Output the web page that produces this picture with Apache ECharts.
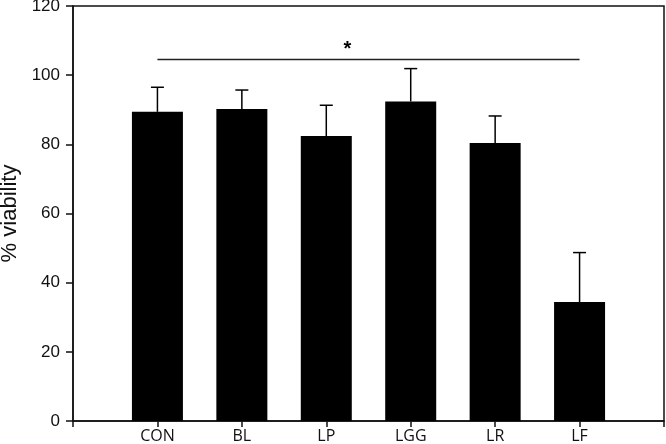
<!DOCTYPE html>
<html>
<head>
<meta charset="utf-8">
<script src="https://cdn.jsdelivr.net/npm/echarts@6/dist/echarts.min.js"></script>
<style>html,body{margin:0;padding:0;background:#fff}#c{width:666px;height:444px}</style>
</head>
<body>
<div id="c"></div>
<script>
var categories = ['CON', 'BL', 'LP', 'LGG', 'LR', 'LF'];
var values = [89.4, 90.2, 82.4, 92.4, 80.4, 34.4];
var errors = [7.1, 5.5, 8.9, 9.5, 7.8, 14.3];
var yTicks = [0, 20, 40, 60, 80, 100, 120];
var sigFrom = 1, sigTo = 6, sigLevel = 104.5;
var sigMark = '*';
var sigMarkPos = [3.25, 107.5];

var chart = echarts.init(document.getElementById('c'), null, {renderer: 'canvas'});
var barData = values.map(function (v, i) { return [i + 1, v]; });
var errData = values.map(function (v, i) { return [i + 1, v, v + errors[i]]; });

chart.setOption({
  animation: false,
  backgroundColor: '#fff',
  grid: {left: 73, right: 2, top: 6, bottom: 23, containLabel: false, outerBoundsMode: 'none',
    show: true, borderColor: '#111', borderWidth: 1.5, backgroundColor: 'transparent'},
  xAxis: {
    type: 'value', min: 0, max: categories.length + 1, interval: 1,
    splitLine: {show: false},
    axisLine: {show: true, onZero: false, lineStyle: {color: '#111', width: 1.5}},
    axisTick: {show: true, length: 6, lineStyle: {color: '#111', width: 1.5}},
    axisLabel: {
      margin: 7, color: '#111', fontSize: 16, fontFamily: 'Open Sans',
      showMinLabel: true, showMaxLabel: true,
      formatter: function (v) { var i = Math.round(v) - 1; return (i >= 0 && i < categories.length) ? categories[i] : ''; }
    }
  },
  yAxis: {
    type: 'value', min: yTicks[0], max: yTicks[yTicks.length - 1], interval: yTicks[1] - yTicks[0],
    splitLine: {show: false},
    axisLine: {show: true, lineStyle: {color: '#111', width: 1.5}},
    axisTick: {show: true, length: 7, lineStyle: {color: '#111', width: 1.5}},
    axisLabel: {margin: 13, color: '#111', fontSize: 17, fontFamily: 'Liberation Sans'},
    name: '% viability', nameLocation: 'middle', nameGap: 46,
    nameTextStyle: {fontSize: 22, color: '#111', fontFamily: 'Liberation Sans'}
  },
  series: [
    {
      type: 'bar', data: barData, barWidth: 51,
      itemStyle: {color: '#000'}, z: 2
    },
    {
      type: 'custom', data: errData, z: 3,
      renderItem: function (params, api) {
        var x = api.value(0);
        var lo = api.coord([x, api.value(1)]);
        var hi = api.coord([x, api.value(2)]);
        var hw = 6.5;
        var style = {stroke: '#000', lineWidth: 1.5};
        return {
          type: 'group',
          children: [
            {type: 'line', shape: {x1: lo[0], y1: lo[1], x2: hi[0], y2: hi[1]}, style: style},
            {type: 'line', shape: {x1: hi[0] - hw, y1: hi[1], x2: hi[0] + hw, y2: hi[1]}, style: style}
          ]
        };
      }
    },
    {
      type: 'line', data: [[sigFrom, sigLevel], [sigTo, sigLevel]],
      symbol: 'none', lineStyle: {color: '#222', width: 1.5}, z: 3
    },
    {
      type: 'custom', data: [sigMarkPos], z: 3,
      renderItem: function (params, api) {
        var p = api.coord([api.value(0), api.value(1)]);
        return {type: 'text', x: p[0], y: p[1], style: {text: sigMark, fill: '#000', font: 'bold 20px Liberation Sans', align: 'center', verticalAlign: 'middle'}};
      }
    }
  ]
});
</script>
</body>
</html>
